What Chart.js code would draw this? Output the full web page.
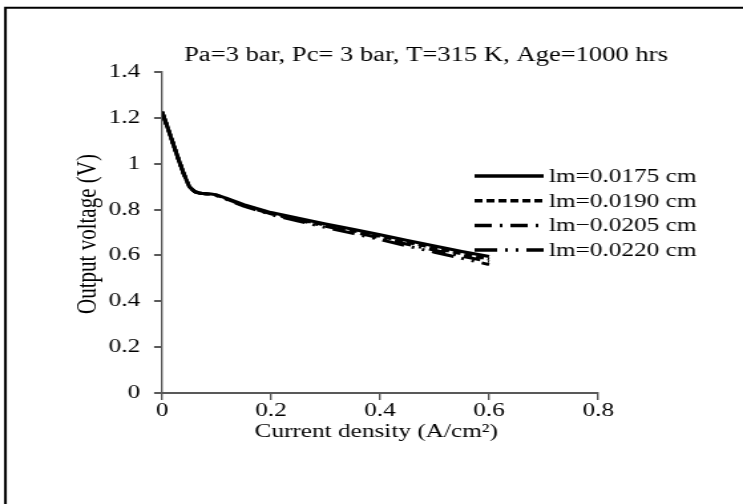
<!DOCTYPE html>
<html>
<head>
<meta charset="utf-8">
<script src="https://cdn.jsdelivr.net/npm/chart.js@4"></script>
<style>
  html, body { margin: 0; padding: 0; background: #fff; overflow: hidden; }
  /* the reference is a horizontally stretched picture, so the canvas is too */
  #chart { transform-origin: 0 0; transform: scaleX(1.3292); }
</style>
</head>
<body>
<canvas id="chart" width="559" height="504"></canvas>
<script>
// Current density (A/cm2)
const currentDensity = [0, 0.01, 0.02, 0.03, 0.04, 0.05, 0.06, 0.07, 0.08, 0.09, 0.1,
  0.12, 0.15, 0.2, 0.25, 0.3, 0.35, 0.4, 0.45, 0.5, 0.55, 0.6];

// Output voltage (V) for each membrane thickness
const v0175 = [1.226, 1.16, 1.09, 1.02, 0.955, 0.9, 0.878, 0.871, 0.869, 0.868, 0.864,
  0.848, 0.822, 0.787, 0.762, 0.737, 0.714, 0.69, 0.665, 0.641, 0.617, 0.595];
const v0190 = [1.226, 1.16, 1.09, 1.02, 0.955, 0.9, 0.878, 0.871, 0.869, 0.868, 0.863,
  0.846, 0.819, 0.784, 0.758, 0.732, 0.708, 0.683, 0.657, 0.632, 0.607, 0.584];
const v0205 = [1.226, 1.16, 1.09, 1.02, 0.955, 0.9, 0.878, 0.871, 0.869, 0.868, 0.862,
  0.845, 0.817, 0.781, 0.754, 0.727, 0.702, 0.676, 0.649, 0.623, 0.597, 0.573];
const v0220 = [1.226, 1.16, 1.09, 1.02, 0.955, 0.9, 0.878, 0.871, 0.869, 0.868, 0.861,
  0.843, 0.815, 0.778, 0.75, 0.722, 0.696, 0.669, 0.641, 0.614, 0.587, 0.56];

const seriesLabels = ["lm=0.0175 cm", "lm=0.0190 cm", "lm\u22120.0205 cm", "lm=0.0220 cm"];
const xTicks = [0, 0.2, 0.4, 0.6, 0.8];
const yTicks = [0, 0.2, 0.4, 0.6, 0.8, 1, 1.2, 1.4];

const chartTitle = "Pa=3 bar, Pc= 3 bar, T=315 K, Age=1000 hrs";
const xTitle = "Current density (A/cm\u00B2)";
const yTitle = "Output voltage (V)";

const SERIF = '"Liberation Serif", "Times New Roman", serif';
const AXIS = "#595959";

const toPoints = ys => currentDensity.map((x, i) => ({ x: x, y: ys[i] }));

const styles = [
  { dash: [], width: 3 },
  { dash: [6, 3], width: 3 },
  { dash: [13, 6, 2, 6], width: 3 },
  { dash: [17, 6, 2, 6, 2, 6], width: 3 }
];

const datasets = [v0175, v0190, v0205, v0220].map((ys, i) => ({
  label: seriesLabels[i],
  data: toPoints(ys),
  borderColor: "#000",
  borderWidth: styles[i].width,
  borderDash: styles[i].dash,
  pointRadius: 0,
  showLine: true,
  fill: false,
  tension: 0
}));

// title, axis titles, legend and frame drawn at fixed spots
const decorations = {
  id: "decorations",
  afterDraw(chart) {
    const ctx = chart.ctx;
    ctx.save();

    // frame (only left and top edges show in the picture)
    ctx.strokeStyle = "#000";
    ctx.lineWidth = 2;
    ctx.beginPath();
    ctx.moveTo(4.1, 600);
    ctx.lineTo(4.1, 7.7);
    ctx.lineTo(700, 7.7);
    ctx.stroke();

    ctx.fillStyle = "#000";
    ctx.textAlign = "center";
    ctx.textBaseline = "middle";
    ctx.font = "20px " + SERIF;
    ctx.fillText(chartTitle, 320.5, 56);
    ctx.font = "19px " + SERIF;
    ctx.fillText(xTitle, 283, 432);

    ctx.font = "21px " + SERIF;
    ctx.save();
    ctx.translate(66.2, 234);
    ctx.rotate(-Math.PI / 2);
    ctx.fillText(yTitle, 0, 0);
    ctx.restore();

    // legend
    ctx.font = "19px " + SERIF;
    ctx.textAlign = "left";
    chart.data.datasets.forEach((ds, i) => {
      const y = 176 + i * 24.7;
      ctx.strokeStyle = ds.borderColor;
      ctx.lineWidth = 3.5;
      ctx.setLineDash(ds.borderDash);
      ctx.beginPath();
      ctx.moveTo(357, y);
      ctx.lineTo(409, y);
      ctx.stroke();
      ctx.setLineDash([]);
      ctx.fillText(ds.label, 413, y + 1);
    });
    ctx.restore();
  }
};

new Chart(document.getElementById("chart"), {
  type: "scatter",
  data: { datasets: datasets },
  options: {
    responsive: false,
    animation: false,
    layout: { padding: { left: 0, top: 72, right: 109, bottom: 71 } },
    plugins: { legend: { display: false }, tooltip: { enabled: false } },
    scales: {
      x: {
        type: "linear",
        min: 0,
        max: 0.8,
        afterBuildTicks: scale => { scale.ticks = xTicks.map(v => ({ value: v })); },
        afterFit: scale => { scale.height = 40; },
        border: { color: AXIS, width: 2 },
        grid: { drawOnChartArea: false, drawTicks: true, tickLength: 7, color: AXIS, lineWidth: 1.4 },
        ticks: {
          color: "#000",
          font: { family: SERIF, size: 19 },
          padding: 0,
          maxRotation: 0,
          callback: v => String(+v.toFixed(1))
        }
      },
      y: {
        type: "linear",
        min: 0,
        max: 1.4,
        afterBuildTicks: scale => { scale.ticks = yTicks.map(v => ({ value: v })); },
        afterFit: scale => { scale.width = 121.9; },
        border: { color: AXIS, width: 1.4 },
        grid: { drawOnChartArea: false, drawTicks: true, tickLength: 6, color: AXIS, lineWidth: 2 },
        ticks: {
          color: "#000",
          font: { family: SERIF, size: 19 },
          padding: 10.5,
          callback: v => String(+v.toFixed(1))
        }
      }
    }
  },
  plugins: [decorations]
});
</script>
</body>
</html>
